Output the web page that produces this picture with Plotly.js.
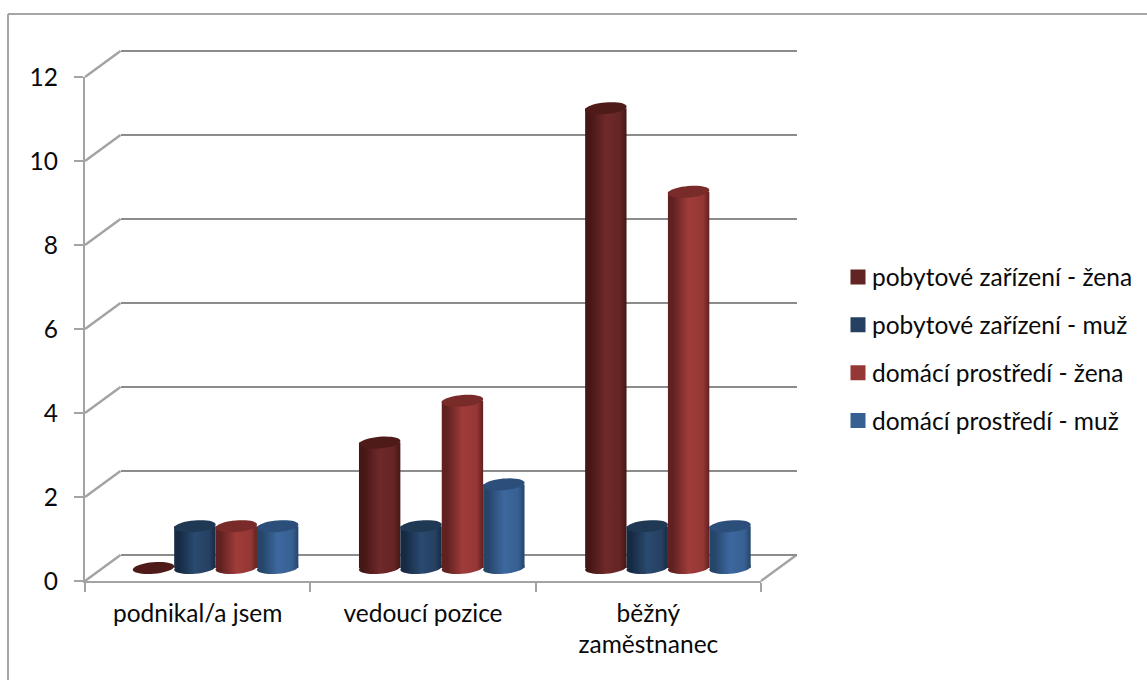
<!DOCTYPE html>
<html lang="cs">
<head>
<meta charset="utf-8">
<title>Graf</title>
<script src="https://cdn.plot.ly/plotly-3.0.1.min.js"></script>
<style>html,body{margin:0;padding:0;background:#fff}#chart{width:1147px;height:680px}</style>
</head>
<body>
<div id="chart"></div>
<script>
const categories = ['podnikal/a jsem', 'vedoucí pozice', 'běžný<br>zaměstnanec'];
const pobytoveZena = [0, 3, 11];
const pobytoveMuz = [1, 1, 1];
const domaciZena = [1, 4, 9];
const domaciMuz = [1, 2, 1];
const seriesNames = ['pobytové zařízení - žena', 'pobytové zařízení - muž', 'domácí prostředí - žena', 'domácí prostředí - muž'];
const yTicks = [0, 2, 4, 6, 8, 10, 12];

const seriesValues = [pobytoveZena, pobytoveMuz, domaciZena, domaciMuz];
const legendColors = ['#632523', '#254061', '#953735', '#376092'];
const edgeColors = ['#451715', '#162a44', '#602120', '#254569'];
const midColors = ['#70292a', '#2a4a70', '#a03c3a', '#3d689f'];
const topColors = ['#4e1b19', '#1f3853', '#782b29', '#2b4e7a'];

const W = 1147, H = 680;
const FONT = 'Lato, "Noto Sans", sans-serif';
const fx = p => p / W, fy = p => 1 - p / H;
const GRID = '#8c8c8c', AXIS = '#a3a3a3';
const front = {l: 85, r: 761, b: 581, t: 77};
const depth = {x: 35.5, y: 26};
const UNIT_Y = 41.8, PAD = 0.5, FRONT_UNIT = (front.b - front.t) / 12;
const barPlane = {l: 102.5, r: 781, b: 568 + PAD * UNIT_Y, t: 568 - 12 * UNIT_Y - PAD * UNIT_Y};
const BARGAP = 0.268;
const unit = (1 - BARGAP) / 4;
const RX = 20.8, RY = 5.8, TILT = 5 * Math.PI / 180;

function ellipsePath() {
  let d = '';
  for (let i = 0; i < 40; i++) {
    const a = i / 40 * 2 * Math.PI;
    const ex = RX * Math.cos(a), ey = RY * Math.sin(a);
    const px = ex * Math.cos(TILT) - ey * Math.sin(TILT);
    const py = ex * Math.sin(TILT) + ey * Math.cos(TILT);
    d += (i ? 'L' : 'M') + px.toFixed(2) + ' ' + py.toFixed(2) + ' ';
  }
  return d + 'Z';
}

const carrier = (xa, ya, x, y) => ({type: 'scatter', mode: 'none', x, y, xaxis: xa, yaxis: ya, showlegend: false, hoverinfo: 'skip'});
const traces = [
  carrier('x', 'y', [0, 1], [0, 12]),
  carrier('x2', 'y2', categories, [0, 0, 0])
].concat(seriesNames.map((name, s) => ({
  type: 'bar', name, x: categories, y: seriesValues[s],
  xaxis: 'x3', yaxis: 'y3', legendgroup: 'g' + s,
  marker: {color: legendColors[s], line: {width: 0}}, hoverinfo: 'x+y+name'
})));

const lineStyle = c => ({color: c, width: 2.4});
const shapes = [
  {type: 'line', xref: 'paper', yref: 'paper', x0: fx(8), x1: fx(8), y0: fy(14), y1: fy(680), line: {color: '#a6a6a6', width: 2}, layer: 'below'},
  {type: 'line', xref: 'paper', yref: 'paper', x0: fx(8), x1: fx(1147), y0: fy(14), y1: fy(14), line: {color: '#a6a6a6', width: 2}, layer: 'below'},
  {type: 'line', xref: 'paper', yref: 'paper', x0: fx(front.r), x1: fx(front.r + depth.x), y0: fy(front.b), y1: fy(front.b - depth.y), line: lineStyle(AXIS), layer: 'below'}
];
yTicks.forEach(v => {
  const py = front.b - (front.b - front.t) * v / 12;
  shapes.push({type: 'line', xref: 'paper', yref: 'paper', x0: fx(front.l), x1: fx(front.l + depth.x), y0: fy(py), y1: fy(py - depth.y), line: lineStyle(AXIS), layer: 'below'});
});

const ellipseFills = {};
seriesValues.forEach((vals, s) => {
  vals.forEach((v, c) => {
    const xa = c + (s - 1.5) * unit;
    const base = {type: 'path', xref: 'x3', yref: 'y3', xsizemode: 'pixel', ysizemode: 'pixel', xanchor: xa, path: ellipsePath(), line: {width: 0}, layer: 'above'};
    if (v > 0) {
      ellipseFills[shapes.length] = 'url(#cyl' + s + ')';
      shapes.push(Object.assign({}, base, {yanchor: 0, fillcolor: legendColors[s]}));
    }
    shapes.push(Object.assign({}, base, {yanchor: v, fillcolor: topColors[s]}));
  });
});

const layout = {
  width: W, height: H, autosize: false,
  margin: {l: 0, r: 0, t: 0, b: 0},
  paper_bgcolor: '#fff', plot_bgcolor: 'rgba(0,0,0,0)',
  font: {family: FONT, size: 24.5, color: '#0a0a0a'},
  barmode: 'group', bargap: BARGAP, bargroupgap: 0,
  showlegend: true,
  legend: {x: fx(832), xanchor: 'left', y: fy(349), yanchor: 'middle', tracegroupgap: 13, traceorder: 'grouped',
           font: {family: FONT, size: 24.5, color: '#0a0a0a'}, bgcolor: 'rgba(0,0,0,0)', borderwidth: 0},
  xaxis: {domain: [fx(front.l + depth.x), fx(front.r + depth.x)], range: [0, 1], anchor: 'y', showgrid: false, zeroline: false, showticklabels: false, ticks: '', showline: false, fixedrange: true},
  yaxis: {domain: [fy(front.b - depth.y + PAD * FRONT_UNIT), fy(front.t - depth.y - PAD * FRONT_UNIT)], range: [-PAD, 12 + PAD], anchor: 'x', tickvals: yTicks, showgrid: true, gridcolor: GRID, gridwidth: 2.4, zeroline: false, showticklabels: false, ticks: '', showline: false, fixedrange: true},
  xaxis2: {domain: [fx(front.l), fx(front.r)], type: 'category', categoryorder: 'array', categoryarray: categories,
           range: [-0.5, 2.5], anchor: 'y2', showline: true, linecolor: AXIS, linewidth: 2.4, ticks: 'outside', ticklen: 9, tickwidth: 2, tickcolor: AXIS, tickson: 'boundaries', showgrid: false, zeroline: false, tickangle: 0, ticklabelstandoff: 9, fixedrange: true},
  yaxis2: {domain: [fy(front.b), fy(front.t)], range: [0, 12], anchor: 'x2', tickvals: yTicks, showline: true, linecolor: AXIS, linewidth: 2.4, ticks: 'outside', ticklen: 9, tickwidth: 2, tickcolor: AXIS, showgrid: false, zeroline: false, ticklabelstandoff: 11, fixedrange: true},
  xaxis3: {domain: [fx(barPlane.l), fx(barPlane.r)], type: 'category', categoryorder: 'array', categoryarray: categories, range: [-0.5, 2.5], anchor: 'y3', showgrid: false, zeroline: false, showticklabels: false, ticks: '', showline: false, fixedrange: true},
  yaxis3: {domain: [fy(barPlane.b), fy(barPlane.t)], range: [-PAD, 12 + PAD], anchor: 'x3', showgrid: false, zeroline: false, showticklabels: false, ticks: '', showline: false, fixedrange: true},
  shapes
};

Plotly.newPlot('chart', traces, layout, {displayModeBar: false, responsive: false}).then(gd => {
  const svg = gd.querySelector('.main-svg');
  const NS = 'http://www.w3.org/2000/svg';
  let defs = svg.querySelector('defs');
  seriesNames.forEach((_, s) => {
    const g = document.createElementNS(NS, 'linearGradient');
    g.setAttribute('id', 'cyl' + s);
    g.setAttribute('x1', '0'); g.setAttribute('x2', '1'); g.setAttribute('y1', '0'); g.setAttribute('y2', '0');
    [[0, edgeColors[s]], [0.12, edgeColors[s]], [0.5, midColors[s]], [0.85, legendColors[s]], [1, edgeColors[s]]].forEach(([o, c]) => {
      const st = document.createElementNS(NS, 'stop');
      st.setAttribute('offset', o); st.setAttribute('stop-color', c);
      g.appendChild(st);
    });
    defs.appendChild(g);
  });
  gd.querySelectorAll('.barlayer .trace').forEach((t, s) => {
    t.querySelectorAll('.point path').forEach(p => { p.style.fill = 'url(#cyl' + s + ')'; p.style.fillOpacity = 1; });
  });
  gd.querySelectorAll('.shapelayer path[data-index]').forEach(p => {
    const f = ellipseFills[+p.getAttribute('data-index')];
    if (f) p.style.fill = f;
  });
  gd.querySelectorAll('.legend .legendpoints').forEach(lp => {
    lp.querySelectorAll('path').forEach(p => p.setAttribute('d', 'M7.5,7.5H-7.5V-7.5H7.5Z'));
    lp.setAttribute('transform', 'translate(6,0)');
  });
});
</script>
</body>
</html>
